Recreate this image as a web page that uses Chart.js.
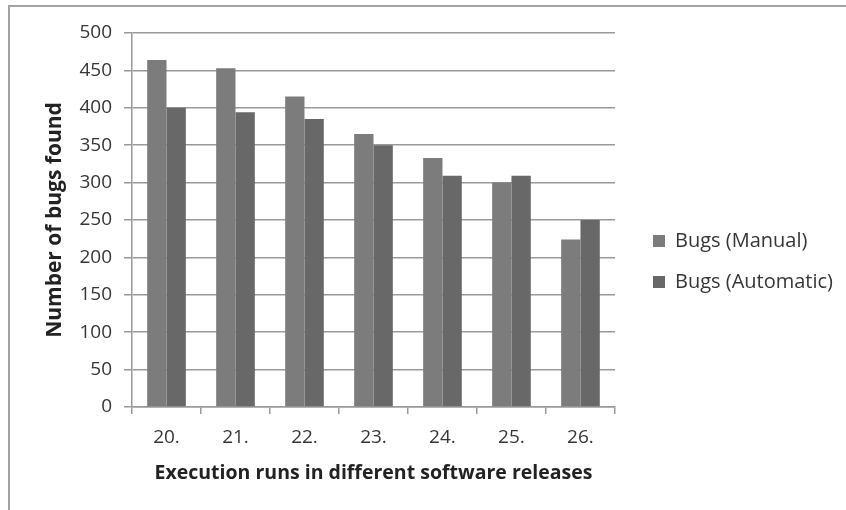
<!DOCTYPE html>
<html>
<head>
<meta charset="utf-8">
<script src="https://cdn.jsdelivr.net/npm/chart.js@4/dist/chart.umd.min.js"></script>
<style>
  html, body { margin: 0; padding: 0; background: #ffffff; }
  canvas { display: block; }
</style>
</head>
<body>
<canvas id="bugsChart" width="846" height="510"></canvas>
<script>
// Software releases on the category axis
const releases = ['20.', '21.', '22.', '23.', '24.', '25.', '26.'];
// Bugs found per release, by testing approach
const bugsManual = [464, 453, 415, 365, 333, 300, 224];
const bugsAutomatic = [400, 394, 385, 350, 309, 309, 250];
// Value axis range and step
const yMin = 0;
const yMax = 500;
const yStep = 50;

const FONT = "'Open Sans', 'DejaVu Sans', sans-serif";
const TEXT = '#363636';
const LINE = '#9a9a9a';

// Thin grey frame along the top and left of the figure
const framePlugin = {
  id: 'figureFrame',
  beforeDraw(chart) {
    const ctx = chart.ctx;
    ctx.save();
    ctx.fillStyle = '#ffffff';
    ctx.fillRect(0, 0, chart.width, chart.height);
    ctx.strokeStyle = '#a3a3a3';
    ctx.lineWidth = 2;
    ctx.beginPath();
    ctx.moveTo(9, chart.height);
    ctx.lineTo(9, 6);
    ctx.lineTo(chart.width, 6);
    ctx.stroke();
    ctx.restore();
  }
};

new Chart(document.getElementById('bugsChart'), {
  type: 'bar',
  data: {
    labels: releases,
    datasets: [
      {
        label: 'Bugs (Manual)',
        data: bugsManual,
        backgroundColor: '#7c7c7c',
        borderWidth: 0
      },
      {
        label: 'Bugs (Automatic)',
        data: bugsAutomatic,
        backgroundColor: '#686868',
        borderWidth: 0
      }
    ]
  },
  plugins: [framePlugin],
  options: {
    responsive: false,
    animation: false,
    layout: { padding: { top: 33, right: 3, bottom: 20, left: 0 } },
    datasets: {
      bar: { categoryPercentage: 0.56, barPercentage: 1.0 }
    },
    plugins: {
      tooltip: { enabled: false },
      legend: {
        position: 'right',
        maxWidth: 300,
        labels: {
          boxWidth: 12,
          boxHeight: 12,
          padding: 21,
          color: TEXT,
          font: { family: FONT, size: 20 }
        }
      }
    },
    scales: {
      x: {
        offset: true,
        grid: {
          display: true,
          offset: true,
          drawOnChartArea: false,
          drawTicks: true,
          tickLength: 7,
          color: LINE,
          lineWidth: 1.5
        },
        border: { display: true, color: LINE, width: 1.5 },
        ticks: { padding: 12, color: TEXT, font: { family: FONT, size: 19 } },
        title: {
          display: true,
          text: 'Execution runs in different software releases',
          color: '#222222',
          font: { family: FONT, size: 19.5, weight: 'bold' },
          padding: { top: 12, bottom: 5 }
        },
        afterFit(scale) { scale.height = 83; }
      },
      y: {
        min: yMin,
        max: yMax,
        ticks: { stepSize: yStep, padding: 12, color: TEXT, font: { family: FONT, size: 19 } },
        grid: { color: LINE, lineWidth: 1.5, tickLength: 8, drawTicks: true },
        border: { display: true, color: LINE, width: 1.5 },
        title: {
          display: true,
          text: 'Number of bugs found',
          color: '#222222',
          font: { family: FONT, size: 21, weight: 'bold' },
          padding: { top: 42, bottom: 0 }
        },
        afterFit(scale) { scale.width = 132; }
      },
      legendGap: {
        type: 'linear',
        position: 'right',
        display: true,
        grid: { display: false, drawTicks: false },
        border: { display: false },
        ticks: { display: false },
        afterFit(scale) { scale.width = 17; }
      }
    }
  }
});
</script>
</body>
</html>
